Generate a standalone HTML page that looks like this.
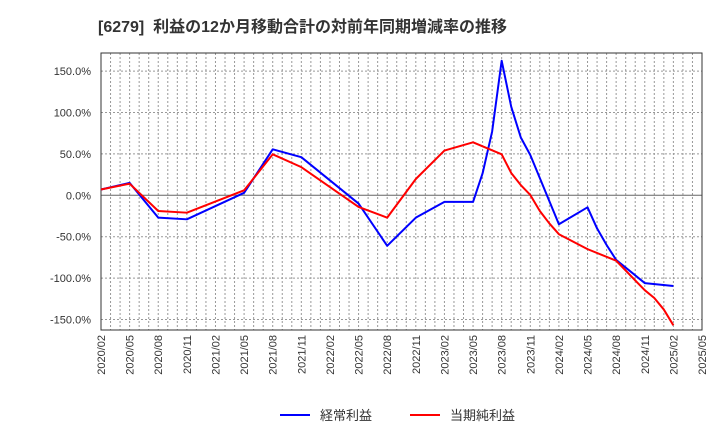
<!DOCTYPE html>
<html><head><meta charset="utf-8"><style>
body{margin:0;background:#fff;font-family:"Liberation Sans","Noto Sans CJK JP",sans-serif;}
svg{display:block}
</style></head><body>
<svg id="c" width="720" height="440" xmlns="http://www.w3.org/2000/svg">
<text x="98" y="32" font-size="16" font-weight="bold" fill="#333" xml:space="preserve" font-family="Liberation Sans, Noto Sans CJK JP, sans-serif">[6279]  利益の12か月移動合計の対前年同期増減率の推移</text>
<g id="grid"></g><g id="axes"></g><g id="series"></g>
<g>
<line x1="280" y1="415" x2="310" y2="415" stroke="#0000ff" stroke-width="2"/>
<text x="320" y="420" font-size="13" fill="#333">経常利益</text>
<line x1="410" y1="415" x2="440" y2="415" stroke="#ff0000" stroke-width="2"/>
<text x="450" y="420" font-size="13" fill="#333">当期純利益</text>
</g>
</svg>
<script>
const xTickLabels=["2020/02","2020/05","2020/08","2020/11","2021/02","2021/05","2021/08","2021/11","2022/02","2022/05","2022/08","2022/11","2023/02","2023/05","2023/08","2023/11","2024/02","2024/05","2024/08","2024/11","2025/02","2025/05"];
const yTicks=[150,100,50,0,-50,-100,-150];
const ordMonths=[0,3,6,9,15,18,21,27,30,33,36,39,40,41,42,43,44,45,48,51,52,53,54,57,60];
const ordValues=[7,15,-27,-29,3,55.5,46,-10,-61,-27,-8,-8,26.5,77,162.5,107,70,48.7,-35,-14.5,-40,-60,-78,-106,-109.5];
const netMonths=[0,3,6,9,15,18,21,27,30,33,36,39,42,43,44,45,46,47,48,51,54,57,58,59,60];
const netValues=[7,14,-19,-21,6,49.5,34,-14,-27,19.7,54,64,49.5,27,12.4,0.4,-19,-34,-47,-65,-79,-114.6,-124,-138,-157];
const L=101,R=702,T=53,B=330,NM=63;
const X=m=>L+(R-L)*m/NM;
const Y=v=>195.3-v*0.828;
const ns="http://www.w3.org/2000/svg";
function mk(p,t,a){const e=document.createElementNS(ns,t);for(const k in a)e.setAttribute(k,a[k]);p.appendChild(e);return e;}
const g=document.getElementById('grid'),ax=document.getElementById('axes'),s=document.getElementById('series');
for(let m=1;m<NM;m++){const l=mk(g,'line',{x1:X(m),x2:X(m),y1:T,y2:B,stroke:'#999','stroke-dasharray':'2,2','stroke-width':1});

}
yTicks.forEach(v=>{const l=mk(g,'line',{x1:L,x2:R,y1:Y(v),y2:Y(v),stroke:v===0?'#666':'#999','stroke-dasharray':v===0?'none':'2,2','stroke-width':1});


const t=mk(ax,'text',{x:91,y:Y(v)+4,'text-anchor':'end','font-size':11,fill:'#333'});


t.textContent=v.toFixed(1)+'%';});
const fr=mk(ax,'rect',{x:L,y:T,width:R-L,height:B-T,fill:'none',stroke:'#333','stroke-width':1});


xTickLabels.forEach((lab,i)=>{const x=X(i*3);const t=mk(ax,'text',{x:0,y:0,'text-anchor':'end','font-size':11,fill:'#333',transform:`translate(${x+4},${B+5}) rotate(-90)`});


t.textContent=lab;});
function line(ms,vs,c,n){const p=mk(s,'polyline',{points:ms.map((m,i)=>X(m)+','+Y(vs[i])).join(' '),fill:'none',stroke:c,'stroke-width':2,'stroke-linejoin':'round'});

}
line(ordMonths,ordValues,'#0000ff','ordinary-profit-line');
line(netMonths,netValues,'#ff0000','net-profit-line');
</script>
</body></html>
